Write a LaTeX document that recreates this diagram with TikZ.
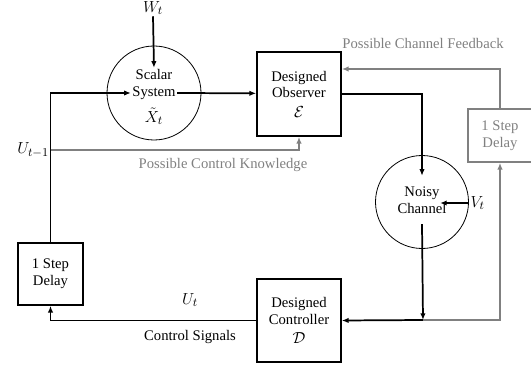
\documentclass[tikz,border=0pt]{standalone}
\usepackage{amsmath,amssymb}
\usepackage{fontspec}
\setmainfont{Liberation Serif}
\usetikzlibrary{arrows.meta}
\newcommand{\sigmath}[1]{{\fontsize{13}{15}\selectfont$#1$}}

\begin{document}
\begin{tikzpicture}[x=0.75pt,y=0.75pt,>={Latex[length=5pt,width=4pt]},
    every node/.append style={font=\fontsize{11}{12.5}\selectfont}]
            \tikzstyle{every node}+=[inner sep=1pt]
            \tikzstyle{blk}=[draw,black,line width=1.3pt,align=center,minimum width=63pt,minimum height=63pt]
            \tikzstyle{rnd}=[draw,circle,line width=0.6pt]
            \tikzstyle{sig}=[black,line width=1.3pt]
            \tikzstyle{opt}=[gray,line width=1.3pt]
            \useasboundingbox (0,0) rectangle (531,368);
            % plant and channel
            \draw (154,275) node[rnd,minimum size=70.5pt] (sys) {};
            \draw (154,271) node[align=center] (systxt) {Scalar\\System\\[5pt]\sigmath{\tilde{X}_t}};
            \draw (422,166) node[rnd,minimum size=69.75pt] (chan) {};
            \draw (422,168) node[align=center,inner xsep=0pt,inner ysep=8pt] (chantxt) {Noisy\\Channel};
            % blocks
            \draw (299,274) node[blk] (obs) {Designed\\Observer\\[2pt]\sigmath{\mathcal{E}}};
            \draw (299,47.5) node[blk,minimum height=62.25pt] (ctl) {Designed\\Controller\\[2pt]\sigmath{\mathcal{D}}};
            \draw (50.5,94) node[blk,minimum width=48.75pt,minimum height=46.5pt] (dl) {1 Step\\Delay};
            \draw (500,232.5) node[blk,gray,minimum width=48pt,minimum height=39.75pt] (gdl) {1 Step\\Delay};
            % inputs
            \draw (153,360) node (w) {\sigmath{W_t}};
            \draw (469,165) node[anchor=west] (v) {\sigmath{V_t}};
            \coordinate (J) at (423,48);
            \coordinate (uk) at (50.5,218);
            % signals
            \draw [sig,->] (w.south) -- (systxt.north);
            \draw [sig,->] ([yshift=3pt]systxt.east) -- ([yshift=0.5pt]obs.west);
            \draw [sig,->] (obs.east) -| (chantxt.north);
            \draw [sig,->] (v.west) -- ([xshift=-5pt]chantxt.east |- v.west);
            \draw [sig,->] (chantxt.south) -- (J);
            \draw [sig,->] (J) -- (ctl.east);
            \draw [sig,->] (ctl.west) -| (dl.south);
            \draw [sig,->] (dl.north) |- ([yshift=3pt]systxt.west);
            % optional paths
            \draw [opt,->] (uk) -| (obs.south);
            \draw [opt,->] (J) -| (gdl.south);
            \draw [opt,->] (gdl.north) |- ([yshift=18.75pt]obs.east);
            % labels
            \draw (uk) node[anchor=east] {\sigmath{U_{t-1}}};
            \draw (190,68) node {\sigmath{U_t}};
            \draw (190,31) node {Control Signals};
            \draw (223,203) node[gray] {Possible Control Knowledge};
            \draw (423,325) node[gray] {Possible Channel Feedback};
        \end{tikzpicture}
\end{document}
